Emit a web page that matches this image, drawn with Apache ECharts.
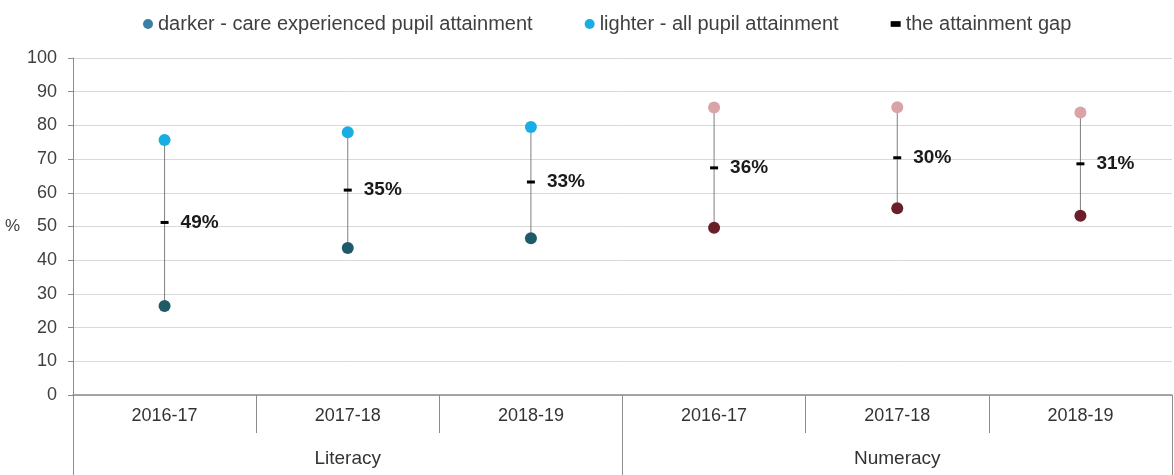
<!DOCTYPE html>
<html>
<head>
<meta charset="utf-8">
<script src="https://cdn.jsdelivr.net/npm/echarts@6/dist/echarts.min.js"></script>
<style>html,body{margin:0;padding:0;background:#fff}#chart{width:1174px;height:475px}</style>
</head>
<body>
<div id="chart"></div>
<script>
var categories = ['2016-17','2017-18','2018-19','2016-17','2017-18','2018-19'];
var groups = ['Literacy','Numeracy'];
var careExperienced = [26.4, 43.6, 46.5, 49.6, 55.4, 53.2];
var allPupils = [75.7, 78.0, 79.5, 85.3, 85.4, 83.8];
var gapMarker = [51.2, 60.8, 63.2, 67.4, 70.4, 68.6];
var gapLabels = [49, 35, 33, 36, 30, 31];
var yTicks = [0,10,20,30,40,50,60,70,80,90,100];

var litDark = '#1f5a69', litLight = '#18ade3', numDark = '#6a1f28', numLight = '#d9a3a8';
var FONT = 'Liberation Sans, Arial, sans-serif';
var chart = echarts.init(document.getElementById('chart'));
var idx = categories.map(function(c,i){return i;});
chart.setOption({
  animation:false,
  textStyle:{fontFamily:FONT},
  legend:{
    top:9, left:138, itemGap:52, itemWidth:10, itemHeight:10,
    textStyle:{fontSize:20,color:'#404040',fontFamily:FONT},
    data:[
      {name:'darker - care experienced pupil attainment', icon:'circle', itemStyle:{color:'#3a80a3'}},
      {name:'lighter - all pupil attainment', icon:'circle', itemStyle:{color:'#18ade3'}},
      {name:'the attainment gap', icon:'path://M0,0h7v4h-7z', itemStyle:{color:'#000'}}
    ]
  },
  grid:{left:73,right:2,top:58,bottom:80},
  xAxis:[{
    type:'category', data:categories, boundaryGap:true,
    axisLine:{lineStyle:{color:'#8c8c8c',width:1.5}},
    axisTick:{show:true,length:38,interval:0,lineStyle:{color:'#8c8c8c'}},
    axisLabel:{fontSize:18,color:'#333',margin:12,interval:0,fontFamily:FONT}
  },{
    type:'category', data:groups, position:'bottom', boundaryGap:true,
    axisLine:{show:false},
    axisTick:{show:true,length:80,interval:0,lineStyle:{color:'#8c8c8c'}},
    axisLabel:{fontSize:19,color:'#333',margin:54,interval:0,fontFamily:FONT}
  }],
  yAxis:{
    type:'value', min:0, max:100, interval:10,
    name:'%', nameLocation:'middle', nameRotate:0, nameGap:53,
    nameTextStyle:{fontSize:17,color:'#404040',fontFamily:FONT},
    axisLine:{show:true,lineStyle:{color:'#8c8c8c'}},
    axisTick:{show:true,length:5,lineStyle:{color:'#8c8c8c'}},
    axisLabel:{fontSize:18,color:'#404040',margin:16,fontFamily:FONT,
      formatter:function(v){return yTicks.indexOf(v)>=0?String(v):'';}},
    splitLine:{lineStyle:{color:'#d9d9d9'}}
  },
  series:[
    {
      type:'custom', name:'range', z:1, silent:true,
      data: idx.map(function(i){return [i, careExperienced[i], allPupils[i]];}),
      encode:{x:0,y:[1,2]},
      renderItem:function(params, api){
        var a = api.coord([api.value(0), api.value(1)]);
        var b = api.coord([api.value(0), api.value(2)]);
        return {type:'line', shape:{x1:a[0],y1:a[1],x2:b[0],y2:b[1]}, style:{stroke:'#7f7f7f',lineWidth:1}};
      }
    },
    {
      type:'scatter', name:'darker - care experienced pupil attainment', z:3,
      data:careExperienced, symbol:'circle', symbolSize:12,
      itemStyle:{color:function(p){return p.dataIndex<3?litDark:numDark;}, opacity:1}
    },
    {
      type:'scatter', name:'lighter - all pupil attainment', z:3,
      data:allPupils, symbol:'circle', symbolSize:12,
      itemStyle:{color:function(p){return p.dataIndex<3?litLight:numLight;}, opacity:1}
    },
    {
      type:'scatter', name:'the attainment gap', z:4,
      data:gapMarker, symbol:'rect', symbolSize:[8,3],
      itemStyle:{color:'#000',opacity:1},
      label:{show:true, position:'right', distance:12, fontSize:19, fontWeight:'bold', color:'#1a1a1a', fontFamily:FONT,
        formatter:function(p){return gapLabels[p.dataIndex]+'%';}}
    }
  ]
});
</script>
</body>
</html>
